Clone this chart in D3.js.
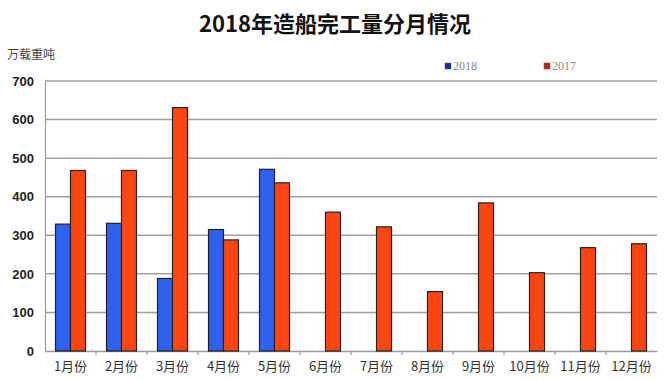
<!DOCTYPE html>
<html><head><meta charset="utf-8">
<script src="https://cdn.jsdelivr.net/npm/d3@7"></script>
<style>body{margin:0;background:#fff}svg{display:block}</style>
</head><body>
<svg id="c" width="670" height="380"></svg>
<script>
const months = ["1月份","2月份","3月份","4月份","5月份","6月份","7月份","8月份","9月份","10月份","11月份","12月份"];
const series = ["2018","2017"];
const values2018 = [329, 331, 188, 315, 471, null, null, null, null, null, null, null];
const values2017 = [468, 468, 631, 288, 436, 360, 322, 154, 384, 203, 268, 278];
const yTicks = [0,100,200,300,400,500,600,700];
const barColors = {"2018":"#2f60f0","2017":"#ff4612"};
const legendColors = {"2018":"#1f2f8f","2017":"#c4221c"};

const svg = d3.select("#c");
const L = 45, R = 657, T = 81, B = 351;
const x = d3.scaleBand().domain(months).range([L, R]).paddingInner(0).paddingOuter(0);
const inner = d3.scaleBand().domain(series).range([x.bandwidth()/2 - 15, x.bandwidth()/2 + 15]);
const y = d3.scaleLinear().domain([0,700]).range([B, T]);

// gridlines
svg.append("g").selectAll("line").data(yTicks.filter(d=>d>0)).join("line")
  .attr("x1", L).attr("x2", R).attr("y1", d=>y(d)).attr("y2", d=>y(d))
  .attr("stroke", "#a0a0a0").attr("stroke-width", 1.5);

// y axis
const yAxis = d3.axisLeft(y).tickValues(yTicks).tickSize(0).tickPadding(11);
const ga = svg.append("g").attr("transform", `translate(${L},0)`).call(yAxis);
ga.select(".domain").attr("stroke", "#999").attr("stroke-width", 1.2);
ga.selectAll("text").attr("font-family", "Liberation Sans, Arial, sans-serif").attr("font-size", 13).attr("fill", "#222").attr("font-weight", "bold");

// x axis
const xAxis = d3.axisBottom(x).tickSize(0).tickPadding(11);
const gx = svg.append("g").attr("transform", `translate(0,${B})`).call(xAxis);
gx.select(".domain").attr("stroke", "#999").attr("stroke-width", 1.5);
gx.selectAll("text").attr("font-family", "Noto Sans CJK SC, sans-serif").attr("font-size", 13).attr("fill", "#333");
// boundary tick marks
svg.append("g").selectAll("line").data(months.slice(1)).join("line")
  .attr("x1", d=>x(d)).attr("x2", d=>x(d)).attr("y1", B).attr("y2", B+4)
  .attr("stroke", "#999").attr("stroke-width", 1.2);

// bars
const rows = months.map((m,i)=>({m, v:{"2018":values2018[i],"2017":values2017[i]}}));
const grp = svg.append("g").selectAll("g").data(rows).join("g").attr("transform", d=>`translate(${x(d.m)},0)`);
grp.selectAll("rect").data(d=>series.filter(s=>d.v[s]!=null).map(s=>({s, v:d.v[s]}))).join("rect")
  .attr("x", d=>inner(d.s)).attr("width", inner.bandwidth())
  .attr("y", d=>y(d.v)).attr("height", d=>B - y(d.v))
  .attr("fill", d=>barColors[d.s]).attr("stroke", "#222").attr("stroke-width", 1.2);

// title
svg.append("text").attr("x", 335).attr("y", 32).attr("text-anchor", "middle")
  .attr("font-family", "Noto Sans CJK SC, sans-serif").attr("font-weight", "bold").attr("font-size", 22)
  .attr("fill", "#111").text("2018年造船完工量分月情况");
// unit
svg.append("text").attr("x", 7).attr("y", 59)
  .attr("font-family", "Noto Sans CJK SC, sans-serif").attr("font-size", 12).attr("fill", "#444").text("万载重吨");

// legend
const legX = {"2018":445, "2017":544};
const lg = svg.append("g").selectAll("g").data(series).join("g").attr("transform", d=>`translate(${legX[d]},66)`);
lg.append("rect").attr("x", 0).attr("y", -3).attr("width", 6).attr("height", 6).attr("fill", d=>legendColors[d]).attr("stroke","#555").attr("stroke-width",0.5);
lg.append("text").attr("x", 8).attr("y", 4).attr("font-family", "Liberation Serif, serif").attr("font-size", 12).attr("fill", "#888").text(d=>d);
</script>
</body></html>
